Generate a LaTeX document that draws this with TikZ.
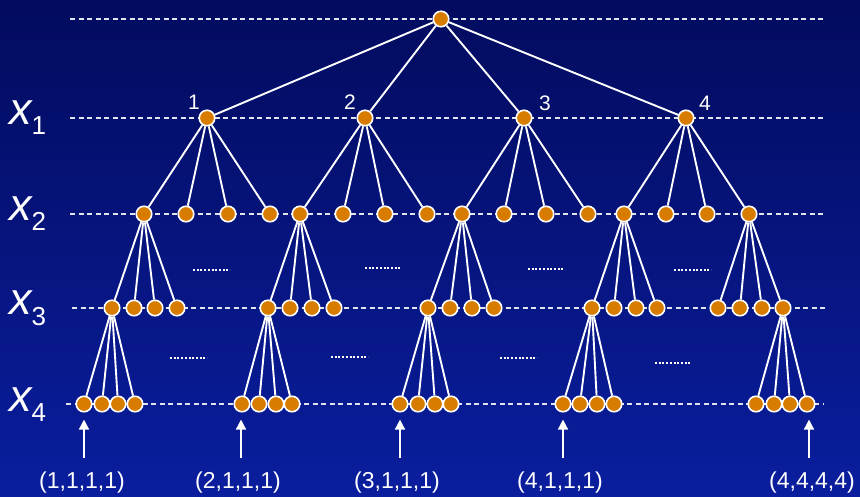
\documentclass[tikz,border=0pt]{standalone}
\usepackage{fontspec}
\setmainfont{Liberation Sans}
\usetikzlibrary{arrows.meta}

\definecolor{bgtop}{RGB}{2,11,94}
\definecolor{bgbot}{RGB}{10,30,158}
\definecolor{nodeorange}{RGB}{216,124,0}
\definecolor{guide}{RGB}{225,228,240}

\pgfdeclarelayer{backdrop}
\pgfdeclarelayer{edges}
\pgfsetlayers{backdrop,edges,main}

\tikzset{
  vertex/.style={circle, fill=nodeorange, draw=white, line width=1.6pt,
                 minimum size=15.5pt, inner sep=0pt},
  branch/.style={draw=white, line width=1.9pt},
  levelline/.style={draw=guide, line width=1.4pt, dash pattern=on 5pt off 3.5pt},
  ellipsis/.style={draw=white, line width=2pt, dash pattern=on 2pt off 1.7pt},
  pointer/.style={draw=white, line width=1.5pt, -{Triangle[width=10pt,length=10pt]}},
  varlabel/.style={anchor=base west, inner sep=0pt, text=white},
  numlabel/.style={inner sep=0pt, text=white, font=\fontsize{21}{21}\selectfont},
  tuplelabel/.style={anchor=base, inner sep=0pt, text=white, font=\fontsize{23}{23}\selectfont}
}

\newcommand{\varname}[1]{{\fontsize{45}{45}\selectfont\itshape x}\raisebox{-10pt}{\fontsize{26}{26}\selectfont #1}}

\begin{document}
\begin{tikzpicture}[x=1pt,y=-1pt]
  % background
  \begin{pgfonlayer}{backdrop}
    \shade[top color=bgtop, bottom color=bgbot] (0,0) rectangle (860,497);
    % level guide lines
    \foreach \y/\a/\b in {19/70/826, 118/70/826, 214/70/826, 308/72/828, 404/66/824}
      \draw[levelline] (\a,\y) -- (\b,\y);
    % omitted subtrees
    \foreach \a/\b/\y in {193/230/270, 365/401/268, 528/564/269, 674/711/270,
                          170/207/358, 331/368/357, 500/537/358, 655/691/363}
      \draw[ellipsis] (\a,\y) -- (\b,\y);
  \end{pgfonlayer}
  \useasboundingbox (0,0) rectangle (860,497);

  % variable names
  \node[varlabel] (v1) at (9,125) {\varname{1}};
  \node[varlabel] (v2) at (9,221) {\varname{2}};
  \node[varlabel] (v3) at (9,315) {\varname{3}};
  \node[varlabel] (v4) at (9,411) {\varname{4}};

  % root
  \node[vertex] (r) at (441,19) {};

  % level 1
  \foreach \x [count=\i] in {207,365,524,686} {
    \node[vertex] (a\i) at (\x,118) {};
    \begin{pgfonlayer}{edges}\draw[branch] (r) -- (a\i);\end{pgfonlayer}
  }
  \node[numlabel] (n1) at (194,102) {1};
  \node[numlabel] (n2) at (350,102) {2};
  \node[numlabel] (n3) at (545,103) {3};
  \node[numlabel] (n4) at (705,103) {4};

  % level 2
  \foreach \g/\xs in {1/{144,186,228,270}, 2/{300,343,385,427},
                      3/{462,504,546,588}, 4/{624,666,707,749}} {
    \foreach \x [count=\i] in \xs {
      \node[vertex] (b\g\i) at (\x,214) {};
      \begin{pgfonlayer}{edges}\draw[branch] (a\g) -- (b\g\i);\end{pgfonlayer}
    }
  }

  % level 3
  \foreach \g/\p/\xs in {1/b11/{112,134,155,177}, 2/b21/{268,290,312,334},
                         3/b31/{428,450,472,494}, 4/b41/{592,614,636,657},
                         5/b44/{718,740,762,783}} {
    \foreach \x [count=\i] in \xs {
      \node[vertex] (c\g\i) at (\x,308) {};
      \begin{pgfonlayer}{edges}\draw[branch] (\p) -- (c\g\i);\end{pgfonlayer}
    }
  }

  % level 4
  \foreach \g/\p/\xs in {1/c11/{84,102,118,135}, 2/c21/{242,259,276,292},
                         3/c31/{400,418,435,451}, 4/c41/{563,580,597,614},
                         5/c54/{756,774,790,807}} {
    \foreach \x [count=\i] in \xs {
      \node[vertex] (d\g\i) at (\x,404) {};
      \begin{pgfonlayer}{edges}\draw[branch] (\p) -- (d\g\i);\end{pgfonlayer}
    }
  }

  % leaf tuples and pointers
  \foreach \g/\leaf/\ax/\lx/\txt in {1/d11/84/82/{(1,1,1,1)}, 2/d21/241/238/{(2,1,1,1)},
                                     3/d31/400/397/{(3,1,1,1)}, 4/d41/563/560/{(4,1,1,1)},
                                     5/d54/809/812/{(4,4,4,4)}} {
    \node[tuplelabel] (t\g) at (\lx,488) {\txt};
    \coordinate (s\g) at (\ax,458);
    \draw[pointer, shorten >=7pt] (s\g) -- (s\g |- \leaf.south);
  }
\end{tikzpicture}
\end{document}
